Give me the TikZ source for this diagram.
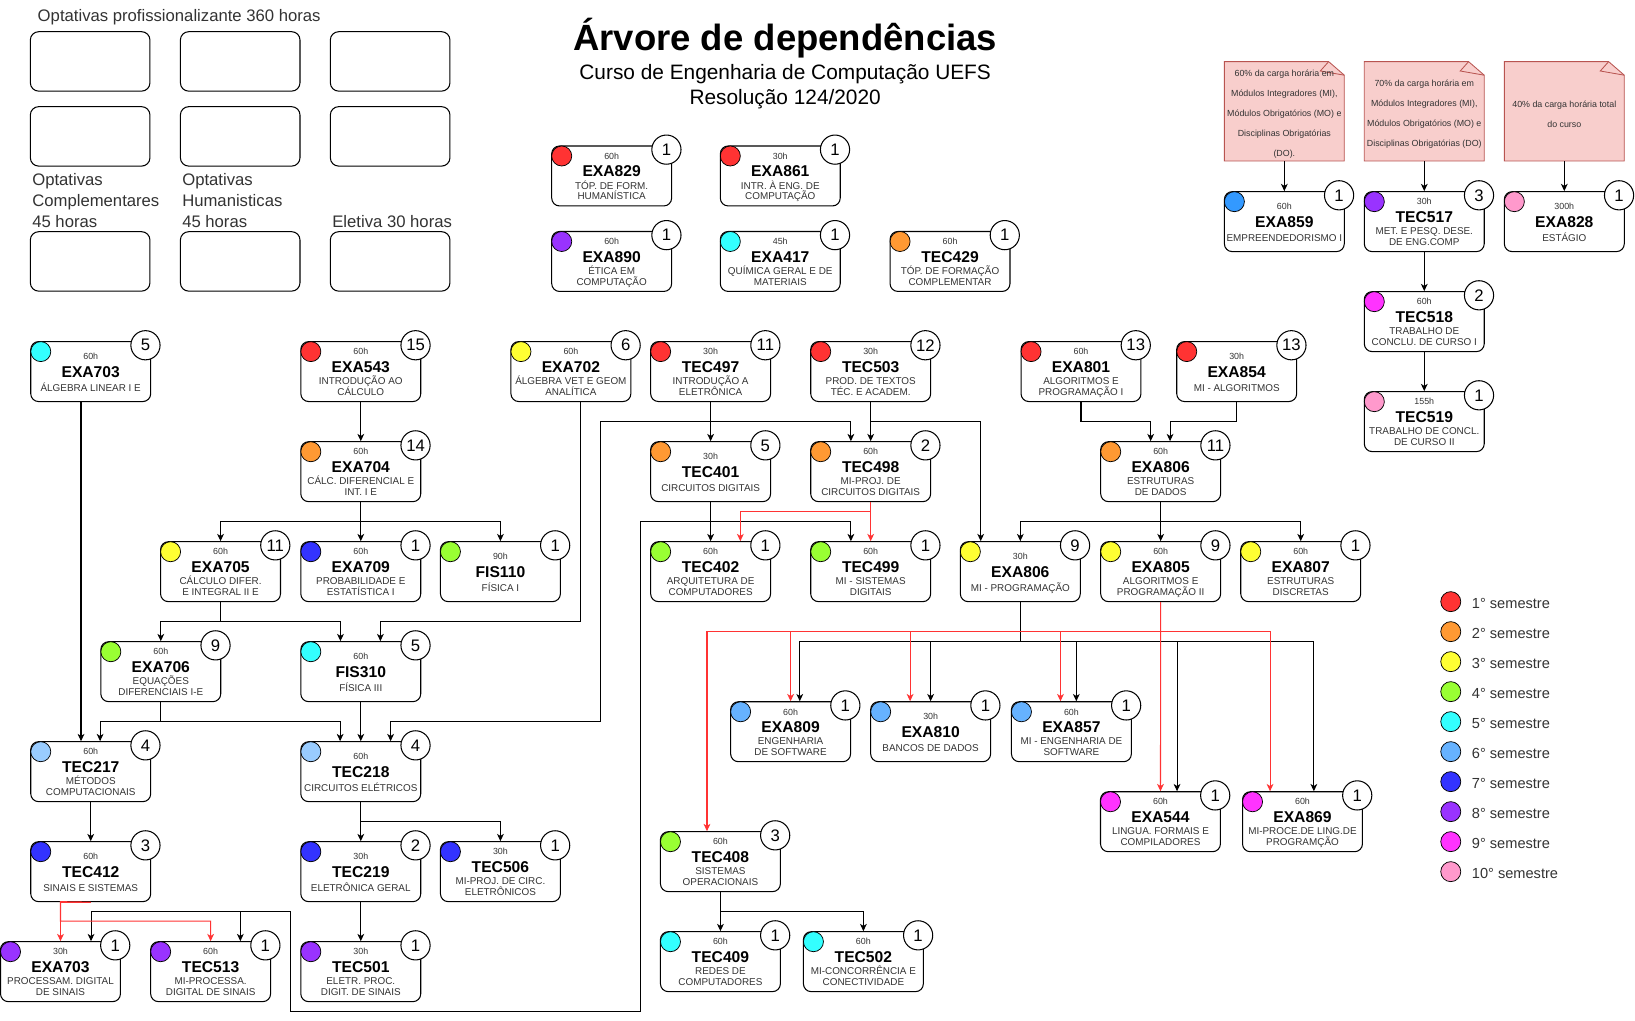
\documentclass[tikz,border=0pt]{standalone}
\usepackage{fontspec}
\setmainfont{Liberation Sans}
\usetikzlibrary{arrows.meta}
\definecolor{s1}{HTML}{FF3333}
\definecolor{s2}{HTML}{FF9933}
\definecolor{s3}{HTML}{FFFF33}
\definecolor{s4}{HTML}{99FF33}
\definecolor{s5}{HTML}{33FFFF}
\definecolor{s6}{HTML}{66B2FF}
\definecolor{s7}{HTML}{3333FF}
\definecolor{s8}{HTML}{9933FF}
\definecolor{s9}{HTML}{FF33FF}
\definecolor{s10}{HTML}{FF99CC}
\definecolor{s6b}{HTML}{99CCFF}
\definecolor{s6c}{HTML}{3399FF}
\definecolor{redl}{HTML}{FF3333}
\definecolor{txt}{HTML}{333333}
\definecolor{notef}{HTML}{F8CECC}
\definecolor{noted}{HTML}{B85450}
\tikzset{
 cbox/.style={draw, line width=1pt, rounded corners=7.5pt, minimum width=115pt, minimum height=57.5pt, inner sep=0pt, fill=white},
 dot/.style={draw, line width=0.7pt, circle, minimum size=19.2pt, inner sep=0pt},
 numc/.style={draw, line width=1pt, circle, fill=white, minimum size=28pt, inner sep=0pt, font=\fontsize{16}{16}\selectfont},
 hrs/.style={anchor=base, font=\fontsize{8.5}{8.5}\selectfont, text=txt, inner sep=0pt},
 code/.style={anchor=base, font=\fontsize{15}{15}\selectfont\bfseries, inner sep=0pt},
 desc/.style={anchor=base, font=\fontsize{9.5}{10.5}\selectfont, text=txt, inner sep=0pt},
 ebox/.style={draw, line width=1pt, rounded corners=8pt, minimum width=114.7pt, minimum height=57pt, inner sep=0pt},
 lbl/.style={anchor=base west, font=\fontsize{16}{16}\selectfont, text=txt, inner sep=0pt},
 leg/.style={anchor=base west, font=\fontsize{14}{14}\selectfont, text=txt, inner sep=0pt},
 notebox/.style={minimum width=115pt, minimum height=95.3pt, inner sep=0pt},
 notetxt/.style={align=center, font=\fontsize{8.5}{19.4}\selectfont, text=txt, inner sep=0pt},
 arr/.style={line width=1pt, -{Stealth[length=7pt,width=6.5pt,inset=2pt]}},
 rarr/.style={arr, draw=redl, color=redl},
}
\newcommand{\course}[6]{%
 \def\crsN{#1}\def\crsL{#2}\def\crsT{#3}%
 \node[cbox] (#1) at (#2+57.5,#3+28.75) {};
 \node[dot, fill=#4] (#1-c) at (#2+9.6,#3+9.6) {};
 \node[numc] (#1-n) at (#2+110,#3+3.5) {#5};
 #6}
\newcommand{\cone}[3]{%
 \node[hrs] (\crsN-h) at (\crsL+57.5,\crsT+16.7) {#1};
 \node[code] (\crsN-k) at (\crsL+57.5,\crsT+34.4) {#2};
 \node[desc] (\crsN-d) at (\crsL+57.5,\crsT+47.4) {#3};}
\newcommand{\ctwo}[4]{%
 \node[hrs] (\crsN-h) at (\crsL+57.5,\crsT+12.7) {#1};
 \node[code] (\crsN-k) at (\crsL+57.5,\crsT+29.4) {#2};
 \node[desc] (\crsN-d) at (\crsL+57.5,\crsT+41.3) {#3};
 \node[desc] (\crsN-e) at (\crsL+57.5,\crsT+51.8) {#4};}
\newcommand{\notedraw}[3]{% name, left, lines
 \fill[notef] (#2,59.1) -- (#2+100,59.1) -- (#2+115,72.1) -- (#2+115,154.4) -- (#2,154.4) -- cycle;
 \draw[noted, line width=0.8pt] (#2,59.1) -- (#2+100,59.1) -- (#2+115,72.1) -- (#2+115,154.4) -- (#2,154.4) -- cycle;
 \draw[noted, line width=0.8pt] (#2+100,59.1) -- (#2+92,68.1) -- (#2+115,72.1);
 \node[notebox] (#1) at (#2+57.5,106.75) {};
 \node[notetxt] (#1-t) at (#2+57.5,109.5) {#3};}
\begin{document}
\begin{tikzpicture}[x=1pt,y=-1pt]
\useasboundingbox (0,0) rectangle (1568,979);
\fill[white] (0,0) rectangle (1568,979);

% title
\node[anchor=base, inner sep=0pt, font=\fontsize{35}{40}\selectfont\bfseries] (title) at (753,48) {Árvore de dependências};
\node[anchor=base, inner sep=0pt, font=\fontsize{20}{24}\selectfont] (sub1) at (753,76) {Curso de Engenharia de Computação UEFS};
\node[anchor=base, inner sep=0pt, font=\fontsize{20}{24}\selectfont] (sub2) at (753,100) {Resolução 124/2020};

% optional boxes
\node[lbl] (lopt) at (36,21) {Optativas profissionalizante 360 horas};
\node[ebox] (e1) at (86.45,58.9) {};
\node[ebox] (e2) at (230.35,58.9) {};
\node[ebox] (e3) at (374.15,58.9) {};
\node[ebox] (e4) at (86.45,130.8) {};
\node[ebox] (e5) at (230.35,130.8) {};
\node[ebox] (e6) at (374.15,130.8) {};
\node[ebox] (e7) at (86.45,250.7) {};
\node[ebox] (e8) at (230.35,250.7) {};
\node[ebox] (e9) at (374.15,250.7) {};
\node[lbl] (lc1) at (30.8,178.3) {Optativas};
\node[lbl] (lc2) at (30.8,197.8) {Complementares};
\node[lbl] (lc3) at (30.8,217.7) {45 horas};
\node[lbl] (lh1) at (174.6,178.3) {Optativas};
\node[lbl] (lh2) at (174.6,197.8) {Humanisticas};
\node[lbl] (lh3) at (174.6,217.7) {45 horas};
\node[lbl] (lel) at (318.5,217.7) {Eletiva 30 horas};

% notes
\notedraw{n1}{1174.2}{60\% da carga horária em\\Módulos Integradores (MI),\\Módulos Obrigatórios (MO) e\\Disciplinas Obrigatórias\\(DO).}
\notedraw{n2}{1308.4}{70\% da carga horária em\\Módulos Integradores (MI),\\Módulos Obrigatórios (MO) e\\Disciplinas Obrigatórias (DO)}
\notedraw{n3}{1442.7}{40\% da carga horária total\\do curso}

% isolated
\course{a829}{529.1}{140}{s1}{1}{\ctwo{60h}{EXA829}{TÓP. DE FORM.}{HUMANÍSTICA}}
\course{a861}{690.8}{140}{s1}{1}{\ctwo{30h}{EXA861}{INTR. À ENG. DE}{COMPUTAÇÃO}}
\course{a890}{529.1}{222}{s8}{1}{\ctwo{60h}{EXA890}{ÉTICA EM}{COMPUTAÇÃO}}
\course{a417}{690.8}{222}{s5}{1}{\ctwo{45h}{EXA417}{QUÍMICA GERAL E DE}{MATERIAIS}}
\course{t429}{853.6}{222}{s2}{1}{\ctwo{60h}{TEC429}{TÓP. DE FORMAÇÃO}{COMPLEMENTAR}}
\course{a859}{1174.2}{183.8}{s6c}{1}{\cone{60h}{EXA859}{EMPREENDEDORISMO I}}
\course{t517}{1308.4}{183.8}{s8}{3}{\ctwo{30h}{TEC517}{MET. E PESQ. DESE.}{DE ENG.COMP}}
\course{a828}{1442.7}{183.8}{s10}{1}{\cone{300h}{EXA828}{ESTÁGIO}}
\course{t518}{1308.4}{279.7}{s9}{2}{\ctwo{60h}{TEC518}{TRABALHO DE}{CONCLU. DE CURSO I}}
\course{t519}{1308.4}{375.6}{s10}{1}{\ctwo{155h}{TEC519}{TRABALHO DE CONCL.}{DE CURSO II}}

% row 1
\course{a703}{29.5}{327.6}{s5}{5}{\cone{60h}{EXA703}{ÁLGEBRA LINEAR I E}}
\course{a543}{288.5}{327.6}{s1}{15}{\ctwo{60h}{EXA543}{INTRODUÇÃO AO}{CÁLCULO}}
\course{a702}{490}{327.6}{s3}{6}{\ctwo{60h}{EXA702}{ÁLGEBRA VET E GEOM}{ANALÍTICA}}
\course{t497}{624}{327.6}{s1}{11}{\ctwo{30h}{TEC497}{INTRODUÇÃO A}{ELETRÔNICA}}
\course{t503}{777.5}{327.6}{s1}{12}{\ctwo{30h}{TEC503}{PROD. DE TEXTOS}{TÉC. E ACADEM.}}
\course{a801}{979.2}{327.6}{s1}{13}{\ctwo{60h}{EXA801}{ALGORITMOS E}{PROGRAMAÇÃO I}}
\course{a854}{1128.5}{327.6}{s1}{13}{\cone{30h}{EXA854}{MI - ALGORITMOS}}
% row 2
\course{a704}{288.5}{423.6}{s2}{14}{\ctwo{60h}{EXA704}{CÁLC. DIFERENCIAL E}{INT. I E}}
\course{t401}{624}{423.6}{s2}{5}{\cone{30h}{TEC401}{CIRCUITOS DIGITAIS}}
\course{t498}{777.5}{423.6}{s2}{2}{\ctwo{60h}{TEC498}{MI-PROJ. DE}{CIRCUITOS DIGITAIS}}
\course{a806e}{1055.6}{423.6}{s2}{11}{\ctwo{60h}{EXA806}{ESTRUTURAS}{DE DADOS}}
% row 3
\course{a705}{154}{519.5}{s3}{11}{\ctwo{60h}{EXA705}{CÁLCULO DIFER.}{E INTEGRAL II E}}
\course{a709}{288.5}{519.5}{s7}{1}{\ctwo{60h}{EXA709}{PROBABILIDADE E}{ESTATÍSTICA I}}
\course{f110}{422.4}{519.5}{s4}{1}{\cone{90h}{FIS110}{FÍSICA I}}
\course{t402}{624}{519.5}{s4}{1}{\ctwo{60h}{TEC402}{ARQUITETURA DE}{COMPUTADORES}}
\course{t499}{777.5}{519.5}{s4}{1}{\ctwo{60h}{TEC499}{MI - SISTEMAS}{DIGITAIS}}
\course{a806m}{921}{519.5}{s3}{9}{\cone{30h}{EXA806}{MI - PROGRAMAÇÃO}}
\course{a805}{1055.6}{519.5}{s3}{9}{\ctwo{60h}{EXA805}{ALGORITMOS E}{PROGRAMAÇÃO II}}
\course{a807}{1189.9}{519.5}{s3}{1}{\ctwo{60h}{EXA807}{ESTRUTURAS}{DISCRETAS}}
% row 4
\course{a706}{96.7}{615.4}{s4}{9}{\ctwo{60h}{EXA706}{EQUAÇÕES}{DIFERENCIAIS I-E}}
\course{f310}{288.5}{615.4}{s5}{5}{\cone{60h}{FIS310}{FÍSICA III}}
% row 5
\course{t217}{29.5}{711.3}{s6b}{4}{\ctwo{60h}{TEC217}{MÉTODOS}{COMPUTACIONAIS}}
\course{t218}{288.5}{711.3}{s6b}{4}{\cone{60h}{TEC218}{CIRCUITOS ELÉTRICOS}}
% row 6
\course{t412}{29.5}{807.2}{s7}{3}{\cone{60h}{TEC412}{SINAIS E SISTEMAS}}
\course{t219}{288.5}{807.2}{s7}{2}{\cone{30h}{TEC219}{ELETRÔNICA GERAL}}
\course{t506}{422.4}{807.2}{s7}{1}{\ctwo{30h}{TEC506}{MI-PROJ. DE CIRC.}{ELETRÔNICOS}}
% row 7
\course{a703p}{0.5}{903.1}{s8}{1}{\ctwo{30h}{EXA703}{PROCESSAM. DIGITAL}{DE SINAIS}}
\course{t513}{144.5}{903.1}{s8}{1}{\ctwo{60h}{TEC513}{MI-PROCESSA.}{DIGITAL DE SINAIS}}
\course{t501}{288.5}{903.1}{s8}{1}{\ctwo{30h}{TEC501}{ELETR. PROC.}{DIGIT. DE SINAIS}}
% others
\course{a809}{700.7}{673}{s6}{1}{\ctwo{60h}{EXA809}{ENGENHARIA}{DE SOFTWARE}}
\course{a810}{835}{673}{s6}{1}{\cone{30h}{EXA810}{BANCOS DE DADOS}}
\course{a857}{970}{673}{s6}{1}{\ctwo{60h}{EXA857}{MI - ENGENHARIA DE}{SOFTWARE}}
\course{a544}{1055.4}{759.3}{s9}{1}{\ctwo{60h}{EXA544}{LINGUA. FORMAIS E}{COMPILADORES}}
\course{a869}{1191.6}{759.3}{s9}{1}{\ctwo{60h}{EXA869}{MI-PROCE.DE LING.DE}{PROGRAMÇÃO}}
\course{t408}{633.4}{797.6}{s4}{3}{\ctwo{60h}{TEC408}{SISTEMAS}{OPERACIONAIS}}
\course{t409}{633.4}{893.5}{s5}{1}{\ctwo{60h}{TEC409}{REDES DE}{COMPUTADORES}}
\course{t502}{770.5}{893.5}{s5}{1}{\ctwo{60h}{TEC502}{MI-CONCORRÊNCIA E}{CONECTIVIDADE}}

% legend
\foreach \k [count=\i from 0] in {1,...,10} {
  \node[dot, fill=s\k] (lg\k) at (1391.3,577+28.77*\i) {};
  \node[leg] (lt\k) at (1411.4,584+28.77*\i) {\k° semestre};
}

% ---- connectors (black)
\draw[arr] (n1.south) -- (a859.north);
\draw[arr] (n2.south) -- (t517.north);
\draw[arr] (n3.south) -- (a828.north);
\draw[arr] (t517.south) -- (t518.north);
\draw[arr] (t518.south) -- (t519.north);

\draw[arr] ([xshift=-9.3pt]a703.south) -- ([xshift=-9.3pt]t217.north);
\draw[arr] (a543.south) -- (a704.north);
\draw[arr] (a704.south) -- (346,500) -| (a705.north);
\draw[arr] (a704.south) -- (a709.north);
\draw[arr] (a704.south) -- (346,500) -| (f110.north);
\draw[arr] (a705.south) -- (211.5,596.2) -| (a706.north);
\draw[arr] (a705.south) -- (211.5,596.2) -| ([xshift=-19.5pt]f310.north);
\draw[arr] ([xshift=9.2pt]a702.south) -- (556.7,596.2) -| ([xshift=18.8pt]f310.north);
\draw[arr] (a706.south) -- (154.2,691.5) -| ([xshift=9pt]t217.north);
\draw[arr] (a706.south) -- (154.2,691.5) -| ([xshift=-19.8pt]t218.north);
\draw[arr] (f310.south) -- (t218.north);
\draw[arr] (t497.south) -- (681.5,404.4) -- (575.5,404.4) -- (575.5,691.5) -| ([xshift=28.6pt]t218.north);
\draw[arr] (t497.south) -- (t401.north);
\draw[arr] (t497.south) -- (681.5,404.4) -| ([xshift=-19pt]t498.north);
\draw[arr] (t503.south) -- (t498.north);
\draw[arr] (t503.south) -- (835,404.4) -| ([xshift=-38pt]a806m.north);
\draw[arr] (t401.south) -- (t402.north);
\coordinate (lj) at (278.5,873.7);
\draw[arr] (lj) -- (278.5,970) -- (614,970) -- (614,500.3) -| ([xshift=-19pt]t499.north);
\draw[arr] (lj) -| ([xshift=29.3pt]a703p.north);
\draw[arr] (lj) -| ([xshift=28.5pt]t513.north);
\draw[arr] (t217.south) -- (t412.north);
\draw[arr] (t218.south) -- (t219.north);
\draw[arr] (t218.south) -- (346,788) -| (t506.north);
\draw[arr] (t219.south) -- (t501.north);
\draw[arr] (a801.south) -- (1036.7,404.4) -| ([xshift=-9.6pt]a806e.north);
\draw[arr] (a854.south) -- (1186,404.4) -| ([xshift=9pt]a806e.north);
\draw[arr] (a806e.south) -- (1113.1,500.3) -| (a806m.north);
\draw[arr] (a806e.south) -- (a805.north);
\draw[arr] (a806e.south) -- (1113.1,500.3) -| (a807.north);
\draw[arr] (a806m.south) -- (978.5,615.4) -| ([xshift=8.8pt]a809.north);
\draw[arr] (a806m.south) -- (978.5,615.4) -| (a810.north);
\draw[arr] (a806m.south) -- (978.5,615.4) -| ([xshift=4.7pt]a857.north);
\draw[arr] (a806m.south) -- (978.5,615.4) -| ([xshift=15.9pt]a544.north);
\draw[arr] (a806m.south) -- (978.5,615.4) -| ([xshift=10.9pt]a869.north);
\draw[arr] (t408.south) -- (t409.north);
\draw[arr] (t408.south) -- (690.9,874.3) -| (t502.north);

% ---- connectors (red)
\draw[rarr] (t498.south) -- (835,490.7) -| ([xshift=28.5pt]t402.north);
\draw[rarr] (t498.south) -- (t499.north);
\draw[rarr] (t412.south) -| (a703p.north);
\draw[rarr] (t412.south) -- (58,864.7) -- (58,883.3) -| (t513.north);
\draw[rarr] (a805.south) -- (1113.1,605.8) -| ([xshift=-12.9pt]t408.north);
\draw[rarr] (a805.south) -- (1113.1,605.8) -| (a809.north);
\draw[rarr] (a805.south) -- (1113.1,605.8) -| ([xshift=-19.7pt]a810.north);
\draw[rarr] (a805.south) -- (1113.1,605.8) -| ([xshift=-10.5pt]a857.north);
\draw[rarr] (a805.south) -- (1113.1,605.8) -| ([xshift=-31.1pt]a869.north);
\draw[rarr] (a805.south) -- (a544.north);
\end{tikzpicture}
\end{document}
